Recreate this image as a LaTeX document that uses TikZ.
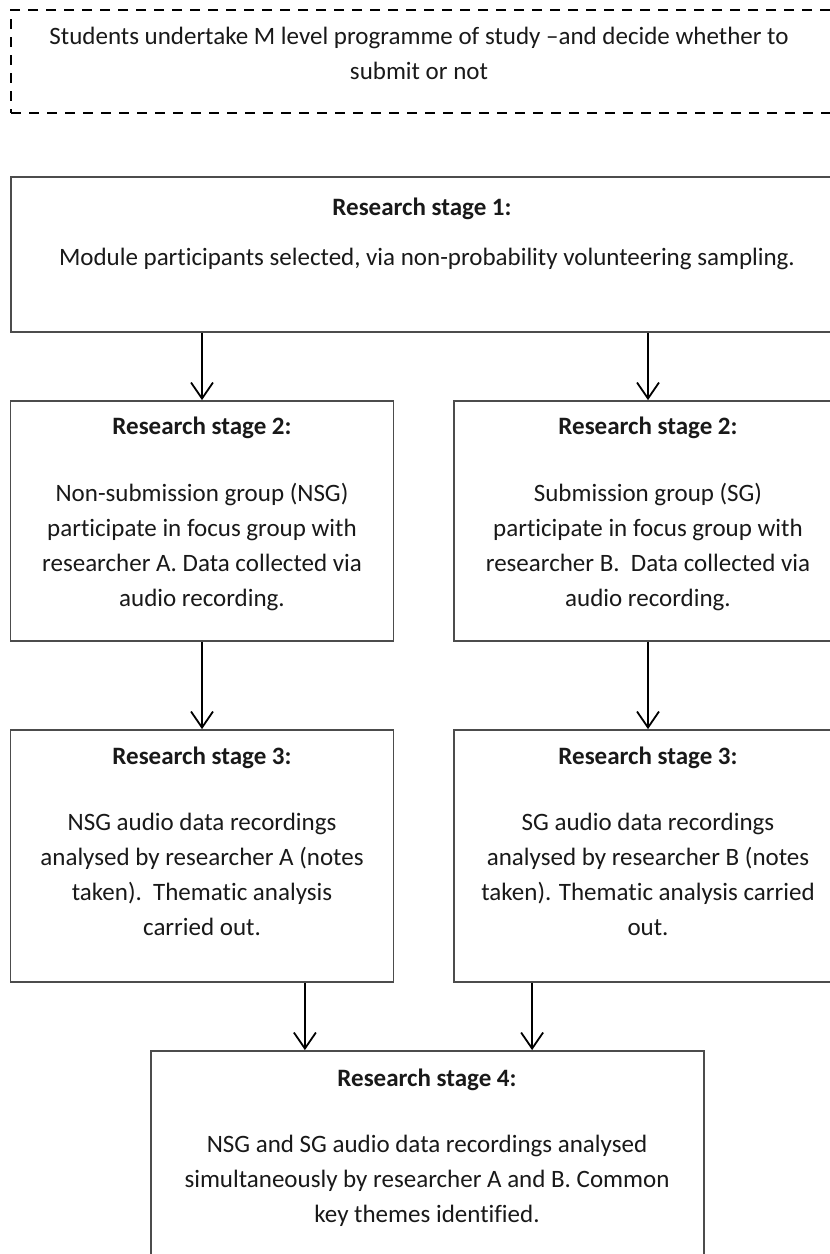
\documentclass[tikz,border=0pt]{standalone}
\usepackage{fontspec}
\setmainfont{Carlito}[Ligatures=NoCommon]
\usetikzlibrary{arrows.meta}
\tikzset{
  x=1pt, y=-1pt,
  boxstyle/.style={draw=black!70, line width=1.8pt, rectangle, inner sep=0pt},
  dashbox/.style={draw=black, line width=1.6pt, rectangle, inner sep=0pt, dash pattern=on 10pt off 8pt},
  titletext/.style={font=\fontsize{25pt}{35pt}\selectfont\bfseries, inner sep=0pt, text=black!90},
  bodytext/.style={font=\fontsize{25pt}{35pt}\selectfont, inner sep=0pt, align=center, anchor=north, text=black!90},
  arr/.style={draw=black, line width=1.8pt, -{Straight Barb[length=16pt,width=22pt,line width=1.8pt]}},
}
\newcommand{\fs}{\rule{0pt}{19pt}}
\begin{document}
\begin{tikzpicture}
\useasboundingbox (0,0) rectangle (830,1254);
\clip (0,0) rectangle (830,1254);
\fill[white] (0,0) rectangle (830,1254);
% boxes
\node[dashbox, minimum width=835pt, minimum height=103pt] (top) at (428.5,61.5) {};
\node[boxstyle, minimum width=835pt, minimum height=155pt] (s1) at (428.5,254.5) {};
\node[boxstyle, minimum width=383pt, minimum height=240pt] (s2a) at (202,521) {};
\node[boxstyle, minimum width=388pt, minimum height=240pt] (s2b) at (648,521) {};
\node[boxstyle, minimum width=383pt, minimum height=252pt] (s3a) at (202,856) {};
\node[boxstyle, minimum width=388pt, minimum height=252pt] (s3b) at (648,856) {};
\node[boxstyle, minimum width=553pt, minimum height=260pt] (s4) at (427.5,1181) {};
% texts
\node[bodytext] (ttop) at (419,25) {\fs Students undertake M level programme of study --and decide whether to\\submit or not};
\node[titletext] (t1) at (422,209) {Research stage 1:};
\node[bodytext] (b1) at (427,246) {\fs Module participants selected, via non-probability volunteering sampling.};
\node[titletext] (t2a) at (202,428) {Research stage 2:};
\node[bodytext] (b2a) at (202,482) {\fs Non-submission group (NSG)\\participate in focus group with\\researcher A. Data collected via\\audio recording.};
\node[titletext] (t2b) at (648,428) {Research stage 2:};
\node[bodytext] (b2b) at (648,482) {\fs Submission group (SG)\\participate in focus group with\\researcher B.\ \ Data collected via\\audio recording.};
\node[titletext] (t3a) at (202,758) {Research stage 3:};
\node[bodytext] (b3a) at (202,811) {\fs NSG audio data recordings\\analysed by researcher A (notes\\taken).\ \ Thematic analysis\\carried out.};
\node[titletext] (t3b) at (648,758) {Research stage 3:};
\node[bodytext] (b3b) at (648,811) {\fs SG audio data recordings\\analysed by researcher B (notes\\taken). Thematic analysis carried\\out.};
\node[titletext] (t4) at (427,1080) {Research stage 4:};
\node[bodytext] (b4) at (427,1133) {\fs NSG and SG audio data recordings analysed\\simultaneously by researcher A and B. Common\\key themes identified.};
% arrows
\draw[arr] (s2a.north |- s1.south) -- (s2a.north);
\draw[arr] (s2b.north |- s1.south) -- (s2b.north);
\draw[arr] (s2a.south) -- (s3a.north);
\draw[arr] (s2b.south) -- (s3b.north);
\draw[arr] ([xshift=-89.5pt]s3a.south east) -- ([xshift=-89.5pt]s3a.south east |- s4.north);
\draw[arr] ([xshift=79pt]s3b.south west) -- ([xshift=79pt]s3b.south west |- s4.north);
\end{tikzpicture}
\end{document}
